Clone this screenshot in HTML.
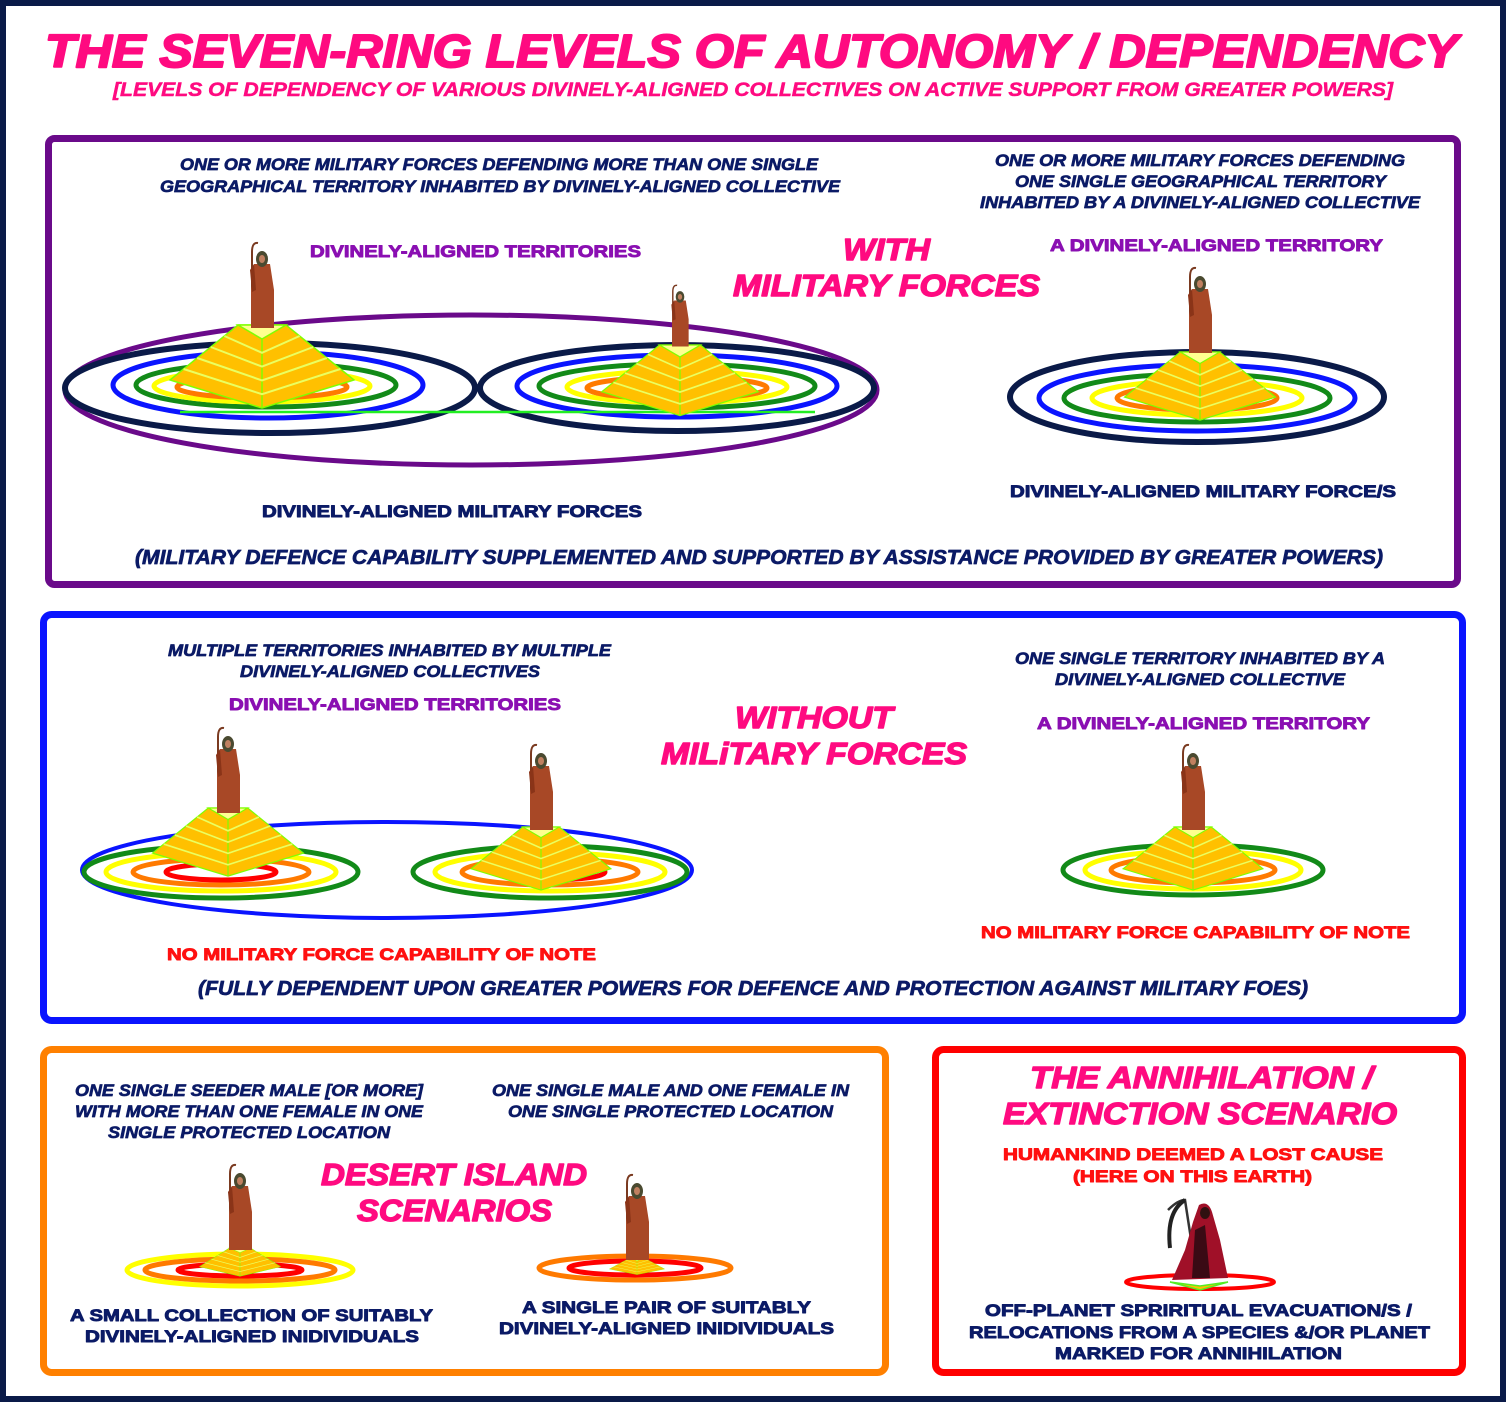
<!DOCTYPE html>
<html><head><meta charset="utf-8"><style>
html,body{margin:0;padding:0;background:#fff}
svg{display:block}
text{font-family:"Liberation Sans",Arial,sans-serif;font-weight:700 !important;stroke-linejoin:round}
.n{fill:#0b1a66;stroke:#0b1a66;stroke-width:.7;font-style:italic;font-size:17px}
.nb{fill:#0b1a66;stroke:#0b1a66;stroke-width:.9;font-size:17px}
.p{fill:#8a0fb2;stroke:#8a0fb2;stroke-width:.9;font-size:17px}
.k{fill:#ff0a80;stroke:#ff0a80;stroke-width:1.4;font-style:italic;font-size:31px}
.r{fill:#ff1010;stroke:#ff1010;stroke-width:.9;font-size:17px}
</style></head><body>
<svg width="1506" height="1402" viewBox="0 0 1506 1402" xmlns="http://www.w3.org/2000/svg" font-weight="bold">
<defs>
<g id="pyr">
<polygon points="-92,55 -24,0 24,0 92,55 0,83" fill="#ffc000" stroke="#7fff00" stroke-width="1.5"/>
<polygon points="-24,0 24,0 0,14" fill="#ffff90" stroke="#7fff00" stroke-width="1.5"/>
<line x1="0" y1="14" x2="0" y2="83" stroke="#7fff00" stroke-width="1.5"/>
<polyline points="-37.6,11 0,27.8 37.6,11" fill="none" stroke="#eaff60" stroke-width="2"/>
<polyline points="-51.2,22 0,41.6 51.2,22" fill="none" stroke="#eaff60" stroke-width="2"/>
<polyline points="-64.8,33 0,55.4 64.8,33" fill="none" stroke="#eaff60" stroke-width="2"/>
<polyline points="-78.4,44 0,69.2 78.4,44" fill="none" stroke="#eaff60" stroke-width="2"/>
</g>
<g id="fig">
<path d="M-10,-3 L-10,-78 Q-10,-88 -4,-87" fill="none" stroke="#7a3a20" stroke-width="2"/>
<polygon points="-8,-66 8,-66 12,-40 12,-2 -11,-2 -11,-40" fill="#a84826"/>
<polygon points="-12,-60 -8,-66 -6,-40 -10,-38" fill="#8a3418"/>
<ellipse cx="0" cy="-71" rx="6" ry="8" fill="#4a4a30"/>
<ellipse cx="0" cy="-71" rx="3" ry="4" fill="#c08060"/>
</g>
</defs>
<rect x="3" y="3" width="1500" height="1396" fill="#fff" stroke="#0a1a48" stroke-width="6"/>

<text x="45" y="67" class="k" style="font-size:46px;stroke-width:2" textLength="1413" lengthAdjust="spacingAndGlyphs">THE SEVEN-RING LEVELS OF AUTONOMY / DEPENDENCY</text>
<text x="113" y="96" class="k" style="font-size:19px;stroke-width:.5" textLength="1280" lengthAdjust="spacingAndGlyphs">[LEVELS OF DEPENDENCY OF VARIOUS DIVINELY-ALIGNED COLLECTIVES ON ACTIVE SUPPORT FROM GREATER POWERS]</text>

<!-- Panel 1 -->
<rect x="48.5" y="138.5" width="1409" height="446" rx="6" fill="none" stroke="#6a0a8a" stroke-width="7"/>
<text x="180" y="170" class="n" textLength="638" lengthAdjust="spacingAndGlyphs">ONE OR MORE MILITARY FORCES DEFENDING MORE THAN ONE SINGLE</text>
<text x="160" y="192" class="n" textLength="680" lengthAdjust="spacingAndGlyphs">GEOGRAPHICAL TERRITORY INHABITED BY DIVINELY-ALIGNED COLLECTIVE</text>
<text x="995" y="166" class="n" textLength="410" lengthAdjust="spacingAndGlyphs">ONE OR MORE MILITARY FORCES DEFENDING</text>
<text x="1015" y="187" class="n" textLength="371" lengthAdjust="spacingAndGlyphs">ONE SINGLE GEOGRAPHICAL TERRITORY</text>
<text x="980" y="208" class="n" textLength="440" lengthAdjust="spacingAndGlyphs">INHABITED BY A DIVINELY-ALIGNED COLLECTIVE</text>
<text x="310" y="257" class="p" textLength="331" lengthAdjust="spacingAndGlyphs">DIVINELY-ALIGNED TERRITORIES</text>
<text x="1050" y="251" class="p" textLength="333" lengthAdjust="spacingAndGlyphs">A DIVINELY-ALIGNED TERRITORY</text>
<text x="843" y="260" class="k" textLength="87" lengthAdjust="spacingAndGlyphs">WITH</text>
<text x="733" y="296" class="k" textLength="307" lengthAdjust="spacingAndGlyphs">MILITARY FORCES</text>

<ellipse cx="471" cy="390" rx="406" ry="75" fill="none" stroke="#6a0a8a" stroke-width="5"/>
<g fill="none" stroke-width="5">
<ellipse cx="270" cy="388" rx="205" ry="45" stroke="#0a1a48" stroke-width="6"/>
<ellipse cx="268" cy="385" rx="155" ry="33" stroke="#0a14ff"/>
<ellipse cx="266" cy="385" rx="130" ry="22" stroke="#128a18"/>
<ellipse cx="262" cy="386" rx="108" ry="16" stroke="#ffff00"/>
<ellipse cx="262" cy="387" rx="85" ry="11" stroke="#ff7a00"/>
<ellipse cx="262" cy="388" rx="55" ry="7" stroke="#ff0000"/>

<ellipse cx="677" cy="388" rx="197" ry="43" stroke="#0a1a48" stroke-width="6"/>
<ellipse cx="677" cy="386" rx="160" ry="31" stroke="#0a14ff"/>
<ellipse cx="677" cy="386" rx="138" ry="22" stroke="#128a18"/>
<ellipse cx="677" cy="387" rx="110" ry="16" stroke="#ffff00"/>
<ellipse cx="677" cy="388" rx="90" ry="11" stroke="#ff7a00"/>
<ellipse cx="680" cy="389" rx="55" ry="7" stroke="#ff0000"/>

<ellipse cx="1197" cy="397" rx="187" ry="45" stroke="#0a1a48" stroke-width="6"/>
<ellipse cx="1197" cy="398" rx="158" ry="33" stroke="#0a14ff"/>
<ellipse cx="1197" cy="398" rx="133" ry="24" stroke="#128a18"/>
<ellipse cx="1197" cy="398" rx="105" ry="17" stroke="#ffff00"/>
<ellipse cx="1197" cy="398" rx="80" ry="12" stroke="#ff7a00"/>
<ellipse cx="1197" cy="398" rx="50" ry="7" stroke="#ff0000"/>
</g>
<line x1="180" y1="412" x2="815" y2="412" stroke="#22ee22" stroke-width="2.5"/>
<use href="#pyr" transform="translate(262,325)"/>
<use href="#pyr" transform="translate(680,345) scale(0.85)"/>
<use href="#pyr" transform="translate(1200,352) scale(0.82)"/>
<use href="#fig" transform="translate(262,330)"/>
<use href="#fig" transform="translate(680,348) scale(0.72)"/>
<use href="#fig" transform="translate(1200,355)"/>

<text x="262" y="517" class="nb" textLength="380" lengthAdjust="spacingAndGlyphs">DIVINELY-ALIGNED MILITARY FORCES</text>
<text x="1010" y="497" class="nb" textLength="386" lengthAdjust="spacingAndGlyphs">DIVINELY-ALIGNED MILITARY FORCE/S</text>
<text x="135" y="564" class="n" style="font-size:20px" textLength="1248" lengthAdjust="spacingAndGlyphs">(MILITARY DEFENCE CAPABILITY SUPPLEMENTED AND SUPPORTED BY ASSISTANCE PROVIDED BY GREATER POWERS)</text>

<!-- Panel 2 -->
<rect x="43.5" y="614.5" width="1419" height="406" rx="8" fill="none" stroke="#0a14ff" stroke-width="7"/>
<text x="168" y="656" class="n" textLength="443" lengthAdjust="spacingAndGlyphs">MULTIPLE TERRITORIES INHABITED BY MULTIPLE</text>
<text x="240" y="677" class="n" textLength="300" lengthAdjust="spacingAndGlyphs">DIVINELY-ALIGNED COLLECTIVES</text>
<text x="229" y="710" class="p" textLength="332" lengthAdjust="spacingAndGlyphs">DIVINELY-ALIGNED TERRITORIES</text>
<text x="735" y="728" class="k" textLength="158" lengthAdjust="spacingAndGlyphs">WITHOUT</text>
<text x="661" y="764" class="k" textLength="306" lengthAdjust="spacingAndGlyphs">MILiTARY FORCES</text>
<text x="1015" y="664" class="n" textLength="370" lengthAdjust="spacingAndGlyphs">ONE SINGLE TERRITORY INHABITED BY A</text>
<text x="1055" y="685" class="n" textLength="290" lengthAdjust="spacingAndGlyphs">DIVINELY-ALIGNED COLLECTIVE</text>
<text x="1037" y="729" class="p" textLength="333" lengthAdjust="spacingAndGlyphs">A DIVINELY-ALIGNED TERRITORY</text>

<g fill="none" stroke-width="5">
<ellipse cx="387" cy="870" rx="305" ry="48" stroke="#0a14ff" stroke-width="4"/>
<ellipse cx="221" cy="872" rx="137" ry="26" stroke="#128a18"/>
<ellipse cx="221" cy="872" rx="115" ry="19" stroke="#ffff00"/>
<ellipse cx="221" cy="872" rx="88" ry="13" stroke="#ff7a00"/>
<ellipse cx="221" cy="872" rx="55" ry="8" stroke="#ff0000"/>
<ellipse cx="550" cy="872" rx="137" ry="26" stroke="#128a18"/>
<ellipse cx="550" cy="872" rx="115" ry="19" stroke="#ffff00"/>
<ellipse cx="550" cy="872" rx="88" ry="13" stroke="#ff7a00"/>
<ellipse cx="550" cy="872" rx="55" ry="8" stroke="#ff0000"/>
<ellipse cx="1193" cy="870" rx="130" ry="25" stroke="#128a18"/>
<ellipse cx="1193" cy="870" rx="108" ry="19" stroke="#ffff00"/>
<ellipse cx="1193" cy="870" rx="82" ry="13" stroke="#ff7a00"/>
<ellipse cx="1193" cy="870" rx="52" ry="8" stroke="#ff0000"/>
</g>
<use href="#pyr" transform="translate(228,808) scale(0.82)"/>
<use href="#pyr" transform="translate(541,827) scale(0.76)"/>
<use href="#pyr" transform="translate(1193,827) scale(0.76)"/>
<use href="#fig" transform="translate(228,815)"/>
<use href="#fig" transform="translate(541,832)"/>
<use href="#fig" transform="translate(1193,832)"/>

<text x="167" y="960" class="r" textLength="429" lengthAdjust="spacingAndGlyphs">NO MILITARY FORCE CAPABILITY OF NOTE</text>
<text x="981" y="938" class="r" textLength="429" lengthAdjust="spacingAndGlyphs">NO MILITARY FORCE CAPABILITY OF NOTE</text>
<text x="198" y="995" class="n" style="font-size:20px" textLength="1110" lengthAdjust="spacingAndGlyphs">(FULLY DEPENDENT UPON GREATER POWERS FOR DEFENCE AND PROTECTION AGAINST MILITARY FOES)</text>

<!-- Panel 3 -->
<rect x="43.5" y="1049.5" width="842" height="323" rx="8" fill="none" stroke="#ff8000" stroke-width="7"/>
<text x="75" y="1096" class="n" textLength="348" lengthAdjust="spacingAndGlyphs">ONE SINGLE SEEDER MALE [OR MORE]</text>
<text x="75" y="1117" class="n" textLength="348" lengthAdjust="spacingAndGlyphs">WITH MORE THAN ONE FEMALE IN ONE</text>
<text x="108" y="1138" class="n" textLength="282" lengthAdjust="spacingAndGlyphs">SINGLE PROTECTED LOCATION</text>
<text x="492" y="1096" class="n" textLength="357" lengthAdjust="spacingAndGlyphs">ONE SINGLE MALE AND ONE FEMALE IN</text>
<text x="508" y="1117" class="n" textLength="325" lengthAdjust="spacingAndGlyphs">ONE SINGLE PROTECTED LOCATION</text>
<text x="321" y="1185" class="k" textLength="266" lengthAdjust="spacingAndGlyphs">DESERT ISLAND</text>
<text x="357" y="1221" class="k" textLength="195" lengthAdjust="spacingAndGlyphs">SCENARIOS</text>
<g fill="none" stroke-width="5">
<ellipse cx="240" cy="1270" rx="113" ry="16" stroke="#ffff00"/>
<ellipse cx="240" cy="1270" rx="95" ry="11" stroke="#ff7a00"/>
<ellipse cx="240" cy="1270" rx="62" ry="6" stroke="#ff0000"/>
<ellipse cx="635" cy="1268" rx="96" ry="12" stroke="#ff7a00"/>
<ellipse cx="635" cy="1268" rx="66" ry="7" stroke="#ff0000"/>
</g>
<use href="#pyr" transform="translate(240,1248) scale(0.44,0.34)"/>
<use href="#pyr" transform="translate(637,1258) scale(0.3,0.2)"/>
<use href="#fig" transform="translate(240,1252)"/>
<use href="#fig" transform="translate(637,1262)"/>
<text x="70" y="1321" class="nb" textLength="363" lengthAdjust="spacingAndGlyphs">A SMALL COLLECTION OF SUITABLY</text>
<text x="85" y="1342" class="nb" textLength="334" lengthAdjust="spacingAndGlyphs">DIVINELY-ALIGNED INIDIVIDUALS</text>
<text x="522" y="1313" class="nb" textLength="289" lengthAdjust="spacingAndGlyphs">A SINGLE PAIR OF SUITABLY</text>
<text x="499" y="1334" class="nb" textLength="335" lengthAdjust="spacingAndGlyphs">DIVINELY-ALIGNED INIDIVIDUALS</text>

<!-- Panel 4 -->
<rect x="935.5" y="1049.5" width="527" height="323" rx="8" fill="none" stroke="#ff0000" stroke-width="7"/>
<text x="1030" y="1088" class="k" textLength="343" lengthAdjust="spacingAndGlyphs">THE ANNIHILATION /</text>
<text x="1003" y="1124" class="k" textLength="394" lengthAdjust="spacingAndGlyphs">EXTINCTION SCENARIO</text>
<text x="1003" y="1160" class="r" textLength="380" lengthAdjust="spacingAndGlyphs">HUMANKIND DEEMED A LOST CAUSE</text>
<text x="1073" y="1182" class="r" textLength="239" lengthAdjust="spacingAndGlyphs">(HERE ON THIS EARTH)</text>
<ellipse cx="1200" cy="1282" rx="74" ry="7" fill="none" stroke="#ff0000" stroke-width="4"/>
<polygon points="1170,1282 1200,1290 1228,1282 1200,1286" fill="#ffc000" stroke="#55ee22" stroke-width="1.5"/>
<path d="M1168,1210 Q1178,1200 1185,1200 L1197,1278" fill="none" stroke="#333" stroke-width="2.5"/>
<path d="M1185,1200 Q1166,1212 1170,1248" fill="none" stroke="#222" stroke-width="4"/>
<path d="M1199,1205 Q1208,1200 1212,1212 L1220,1240 L1228,1278 L1172,1280 L1185,1250 L1193,1222 Z" fill="#a01028"/>
<path d="M1195,1230 L1205,1225 L1210,1278 L1192,1278 Z" fill="#3a0a14"/>
<ellipse cx="1205" cy="1213" rx="5" ry="6" fill="#301010"/>

<text x="985" y="1316" class="nb" textLength="427" lengthAdjust="spacingAndGlyphs">OFF-PLANET SPRIRITUAL EVACUATION/S  /</text>
<text x="969" y="1338" class="nb" textLength="461" lengthAdjust="spacingAndGlyphs">RELOCATIONS FROM A SPECIES &amp;/OR PLANET</text>
<text x="1055" y="1359" class="nb" textLength="287" lengthAdjust="spacingAndGlyphs">MARKED FOR ANNIHILATION</text>
</svg>
</body></html>
